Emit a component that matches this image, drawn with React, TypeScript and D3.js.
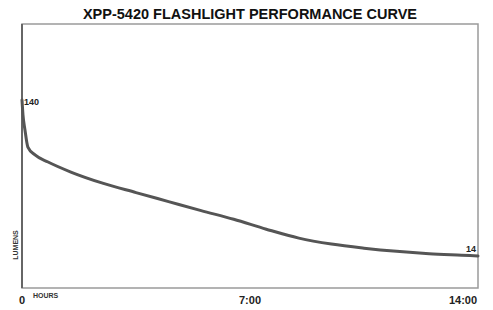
import React from "react";
import * as d3 from "d3";

const hours = [0, 0.03, 0.09, 0.18, 0.4, 0.8, 1.5, 2.5, 3.5, 4.5, 5.5, 6.5, 7.5, 8.5, 9.5, 10.5, 11.5, 12.5, 13.5, 14];
const lumens = [140, 128, 116, 102, 95.6, 89.9, 81.8, 72.6, 65.2, 57.9, 50.6, 43.6, 35.6, 28.4, 23.6, 20.3, 17.7, 15.8, 14.6, 14];
const xTicks = [0, 7, 14];
const xTickLabels = ["0", "7:00", "14:00"];
const title = "XPP-5420 FLASHLIGHT PERFORMANCE CURVE";

const W = 493, H = 310;
const left = 22, right = 478, top = 24, bottom = 288;

export default function App() {
  const x = d3.scaleLinear().domain([0, 14]).range([left, right]);
  const y = d3.scaleLinear().domain([-11.9, 201.4]).range([bottom, top]);
  const pts = hours.map((h, i) => [h, lumens[i]] as [number, number]);
  const line = d3.line<[number, number]>().x(d => x(d[0])).y(d => y(d[1])).curve(d3.curveMonotoneX);
  const font = "'Liberation Sans', Arial, sans-serif";
  return (
    <svg width={W} height={H} style={{ position: "absolute", left: 0, top: 0, background: "#fff" }} fontFamily={font}>
      <text x={250} y={19} textAnchor="middle" fontWeight="bold" fontSize={14.5} fill="#111">{title}</text>
      <rect x={left} y={top} width={right - left} height={bottom - top} fill="none" stroke="#9a9a9a" strokeWidth={1.5} />
      <line x1={left} x2={left} y1={top} y2={bottom} stroke="#666" strokeWidth={2} />
      <path d={line(pts) || ""} fill="none" stroke="#555" strokeWidth={3} strokeLinejoin="round" strokeLinecap="round" />
      <text x={left + 2} y={y(140) + 5} fontSize={9} fontWeight="bold" fill="#222">140</text>
      <text x={right - 2} y={y(14) - 4} textAnchor="end" fontSize={9} fontWeight="bold" fill="#222">14</text>
      {xTicks.map((t, i) => (
        <text key={i} x={i === 2 ? x(t) - 15 : x(t)} y={304} textAnchor="middle" fontSize={11} fontWeight="bold" fill="#222">{xTickLabels[i]}</text>
      ))}
      <text x={33} y={298} fontSize={7} fontWeight="bold" fill="#333">HOURS</text>
      <text transform={`translate(18,245) rotate(-90)`} textAnchor="middle" fontSize={7} fontWeight="bold" fill="#333">LUMENS</text>
    </svg>
  );
}
